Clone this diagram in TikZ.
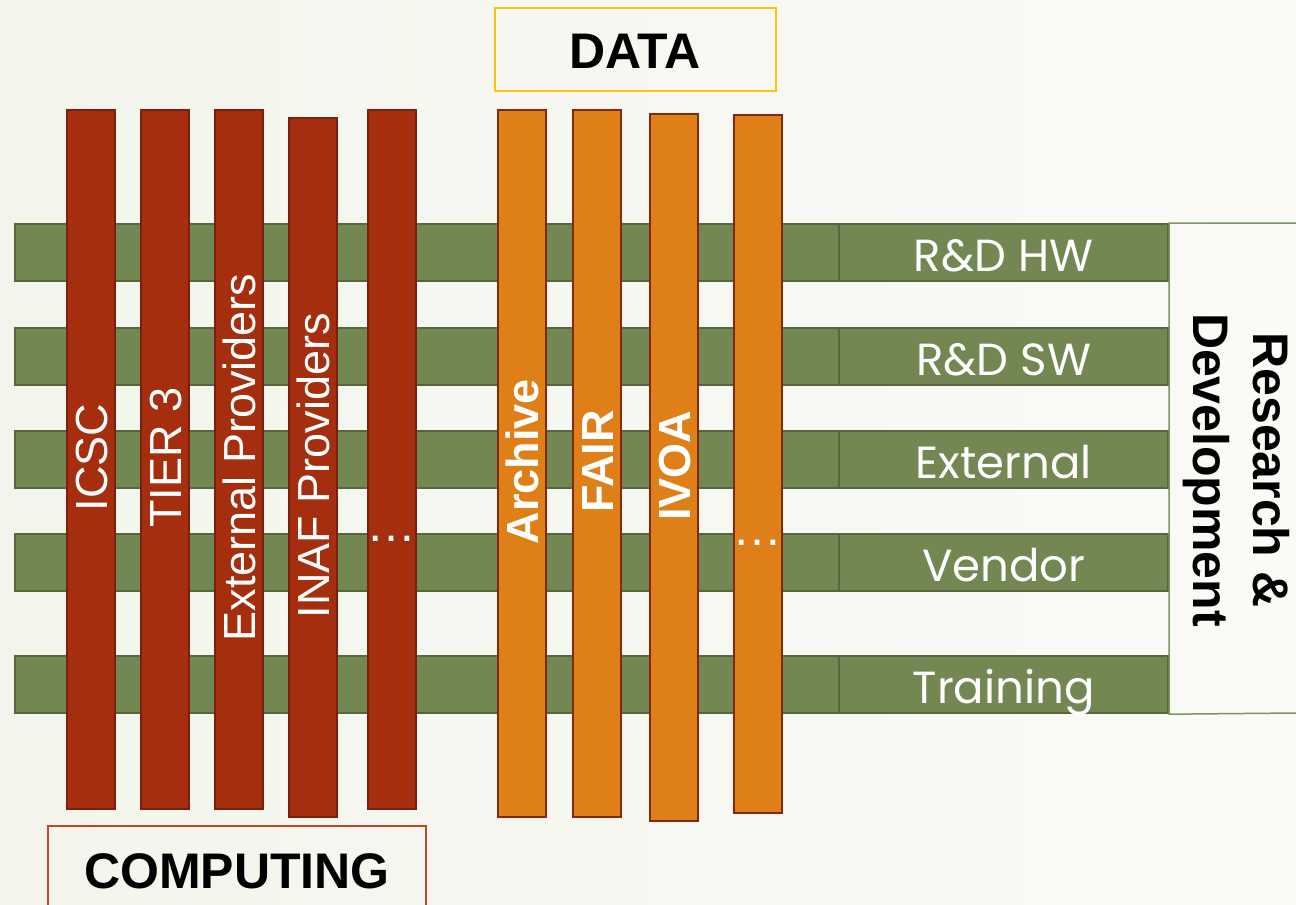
\documentclass[tikz,border=0pt]{standalone}
\usepackage{fontspec}
\setmainfont{Liberation Sans}
\newfontfamily\gothic{Poppins}
\definecolor{bgL}{HTML}{F3F5EC}
\definecolor{bgR}{HTML}{FAFAF7}
\definecolor{grn}{HTML}{738752}
\definecolor{grnD}{HTML}{56673D}
\definecolor{brk}{HTML}{7D9661}
\definecolor{red}{HTML}{A52E0F}
\definecolor{redD}{HTML}{7B2010}
\definecolor{org}{HTML}{DF7F18}
\definecolor{orgD}{HTML}{852711}
\definecolor{gold}{HTML}{FFC20E}
\definecolor{cbox}{HTML}{BE4A25}
\begin{document}
\begin{tikzpicture}[x=1pt,y=-1pt,
  greenbar/.style={draw=grnD, fill=grn, line width=2.2pt, inner sep=0pt, anchor=north west, minimum height=57pt},
  redbar/.style={draw=redD, fill=red, line width=2.2pt, inner sep=0pt, anchor=north west, minimum width=48pt, minimum height=699pt},
  orgbar/.style={draw=orgD, fill=org, line width=2.2pt, inner sep=0pt, anchor=north west, minimum width=48pt, minimum height=707pt},
  vlab/.style={rotate=90, text=white, inner sep=0pt, text height=32pt, text depth=0pt, xshift=2pt, font=\fontsize{45}{54}\selectfont},
  vlabb/.style={vlab, font=\fontsize{45}{54}\selectfont\bfseries},
  glab/.style={text=white, inner sep=0pt, text height=34pt, text depth=0pt, yshift=-1.5pt, font=\gothic\fontsize{45}{54}\selectfont},
  dots/.style={text=white, inner sep=0pt, anchor=base, font=\fontsize{50}{60}\selectfont},
  title/.style={inner sep=0pt, anchor=base, font=\fontsize{50}{60}\selectfont\bfseries}
]
\shade[left color=bgL, right color=bgR] (0,0) rectangle (1296,905);
\useasboundingbox (0,0) rectangle (1296,905);

% green rows (left part and label part)
\foreach \n/\y in {a/223, b/327, c/430, d/533, e/655}{
  \node[greenbar, minimum width=824pt] (g\n) at (14,\y) {};
  \node[greenbar, minimum width=329pt] (l\n) at (838,\y) {};
}
\node[glab] at (la.center) {R\&D HW};
\node[glab] at (lb.center) {R\&D SW};
\node[glab] at (lc.center) {External};
\node[glab] at (ld.center) {Vendor};
\node[glab] at (le.center) {Training};

% bracket
\coordinate (bt) at (1296,223);
\coordinate (bb) at (1296,713);
\draw[brk, line width=1.5pt] (bt) -- (la.north east) -- (le.south east) -- (bb);
\node[rotate=-90, align=center, inner sep=0pt, font=\fontsize{50}{60}\selectfont\bfseries] (rd) at (1236,470) {Research \&\\Development};

% computing bars
\node[redbar] (icsc) at (66,109) {};
\node[redbar] (tier) at (140,109) {};
\node[redbar] (ext) at (214,109) {};
\node[redbar] (inaf) at (288,117) {};
\node[redbar] (cdots) at (367,109) {};
\node[vlab] at (icsc.center) {ICSC};
\node[vlab] at (tier.center) {TIER 3};
\node[vlab] at (ext.center) {External Providers};
\node[vlab] at (inaf.center) {INAF Providers};
\node[dots] at (391,541) {…};

% data bars
\node[orgbar] (arch) at (497,109) {};
\node[orgbar] (fair) at (572,109) {};
\node[orgbar] (ivoa) at (649,113) {};
\node[orgbar, minimum height=698pt] (ddots) at (733,114) {};
\node[vlabb] at (arch.center) {Archive};
\node[vlabb] at (fair.center) {FAIR};
\node[vlabb] at (ivoa.center) {IVOA};
\node[dots] at (757,545) {…};

% titles
\node[draw=gold, line width=2pt, minimum width=281pt, minimum height=83pt, anchor=north west] (databox) at (494,7) {};
\node[title] (data) at (635,68) {DATA};
\coordinate (cb1) at (48,910);
\coordinate (cb2) at (426,910);
\draw[cbox, line width=2pt] (cb1) -- (48,826) -- (426,826) -- (cb2);
\node[title] (comp) at (237,888) {COMPUTING};
\end{tikzpicture}
\end{document}
